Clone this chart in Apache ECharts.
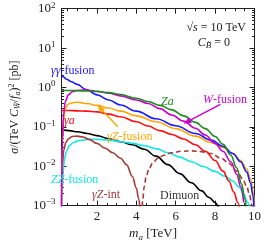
<!DOCTYPE html>
<html><head><meta charset="utf-8">
<script src="https://cdn.jsdelivr.net/npm/echarts@6/dist/echarts.min.js"></script>
<style>html,body{margin:0;padding:0;background:#fff}#c{width:266px;height:247px}</style>
</head><body><div id="c"></div>
<script>
// ---- data (m_a in TeV, sigma in pb) ----
const mGG=[0.2,0.3,0.45,0.7,1.0,1.45,2.0,2.6,3.2,4.0,5.0,6.0,7.0,7.8,8.4,8.9,9.3,9.6,9.8,9.92,9.98];
const sGG=[2.1,1.85,1.62,1.4,1.2,0.88,0.65,0.48,0.36,0.25,0.16,0.107,0.068,0.046,0.032,0.021,0.013,0.0072,0.0038,0.0018,0.0008];
const mZa=[0.2,0.6,1.0,1.5,2.0,2.6,3.2,4.0,4.6,5.2,5.8,6.4,7.0,7.5,8.0,8.4,8.8,9.1,9.35,9.5,9.6];
const sZa=[0.85,0.84,0.83,0.81,0.79,0.74,0.66,0.53,0.44,0.35,0.27,0.19,0.13,0.09,0.057,0.036,0.019,0.009,0.0035,0.0015,0.0007];
const mWW=[0.2,0.25,0.3,0.4,0.55,0.75,1.0,1.3,1.6,2.0,2.6,3.2,4.0,4.6,5.2,5.8,6.4,7.0,7.5,8.0,8.4,8.8,9.1,9.3,9.45];
const sWW=[0.0008,0.05,0.2,0.45,0.65,0.78,0.84,0.86,0.85,0.8,0.71,0.61,0.48,0.39,0.29,0.2,0.14,0.092,0.062,0.038,0.024,0.013,0.0062,0.003,0.0012];
const mGZ=[0.2,0.25,0.3,0.4,0.55,0.75,1.0,1.5,2.0,2.6,3.2,4.0,5.0,6.0,7.0,7.8,8.4,8.9,9.3,9.6,9.8,9.93,10.0];
const sGZ=[0.001,0.04,0.15,0.3,0.38,0.41,0.42,0.39,0.35,0.3,0.25,0.19,0.135,0.09,0.058,0.04,0.03,0.021,0.014,0.0085,0.0048,0.0022,0.0009];
const mGA=[0.2,0.6,1.0,1.5,2.0,2.6,3.2,4.0,4.6,5.2,5.8,6.4,7.0,7.5,8.0,8.4,8.7,8.95,9.15,9.3];
const sGA=[0.26,0.26,0.255,0.25,0.24,0.21,0.18,0.135,0.105,0.08,0.064,0.049,0.035,0.024,0.014,0.0075,0.0042,0.0022,0.0012,0.0006];
const mZZ=[0.2,0.23,0.28,0.35,0.45,0.6,0.8,1.1,1.5,2.0,2.6,3.2,3.8,4.4,5.0,5.6,6.2,6.8,7.4,8.0,8.5,8.9,9.2,9.45,9.65,9.8];
const sZZ=[0.0005,0.002,0.007,0.015,0.024,0.033,0.04,0.045,0.048,0.048,0.046,0.042,0.038,0.033,0.028,0.022,0.017,0.013,0.0098,0.0074,0.0056,0.0042,0.003,0.002,0.0012,0.0007];
const mMu=[0.2,0.6,1.0,1.5,2.0,2.6,3.2,3.8,4.4,5.0,5.6,6.2,6.8,7.3,7.7,8.0,8.2,8.35];
const sMu=[0.085,0.08,0.075,0.068,0.06,0.05,0.042,0.035,0.027,0.018,0.011,0.0065,0.0038,0.0024,0.0016,0.0012,0.0009,0.0007];
const mInt=[0.2,0.25,0.32,0.42,0.55,0.75,1.0,1.3,1.6,2.0,2.4,2.8,3.2,3.5,3.8,4.0,4.12,4.2];
const sInt=[0.003,0.012,0.026,0.04,0.05,0.057,0.058,0.055,0.048,0.038,0.029,0.022,0.016,0.011,0.0055,0.0028,0.0015,0.0007];
const mIntNeg=[4.28,4.33,4.4,4.5,4.65,4.85,5.1,5.4,5.8,6.3,6.8,7.3,7.8,8.3,8.7,9.1,9.4,9.6,9.75,9.85,9.92];
const sIntNeg=[0.0006,0.0015,0.003,0.0055,0.0088,0.0125,0.016,0.019,0.022,0.024,0.0245,0.0235,0.021,0.016,0.012,0.0075,0.0048,0.0031,0.0019,0.0011,0.0007];
// arrows (data coords): start -> end
const arrowW=[[8.27,0.37],[6.57,0.134]];
const arrowGZ=[[3.06,0.1],[2.16,0.3]];
// ticks
const xMajor=[2,4,6,8,10];
const xMinor=[0.5,1,1.5,2.5,3,3.5,4.5,5,5.5,6.5,7,7.5,8.5,9,9.5];
const yExp=[-3,-2,-1,0,1,2];

const C={gg:'#1a1aff',za:'#1e8c1e',ww:'#cc00cc',gz:'#ffa500',ga:'#ff1010',zz:'#10e6e6',mu:'#000000',int:'#a83a3a'};
const F='Liberation Serif';
const zip=(a,b)=>a.map((v,i)=>[v,b[i]]);
const yMinor=[];yExp.slice(0,-1).forEach(e=>{for(let k=2;k<=9;k++)yMinor.push(e+Math.log10(k));});

function line(name,m,s,color,dashed){
  return {name,type:'line',data:zip(m,s),xAxisIndex:0,yAxisIndex:0,showSymbol:false,symbol:'none',
    smooth:0.4,smoothMonotone:'x',clip:true,z:3,
    lineStyle:{color,width:1.6,type:dashed?[5,3]:'solid'}};
}
function arrow(s,a,color){
  s.markLine={silent:true,symbol:['none','triangle'],symbolSize:[6,8],animation:false,
    label:{show:false},lineStyle:{color,width:1.4,type:'solid'},
    data:[[{coord:a[0]},{coord:a[1]}]]};
  return s;
}
function txt(x,y,text,color,align){
  return {type:'text',x,y,z:10,style:{text,fill:color,align:align||'left',verticalAlign:'middle',
    fontFamily:F,fontSize:12,
    rich:{n:{fontFamily:F,fontSize:12,fill:color},
          i:{fontFamily:F,fontSize:12,fontStyle:'italic',fill:color},
          s:{fontFamily:F,fontSize:9,fontStyle:'italic',fill:color,padding:[6,0,0,0]}}}};
}
const axBase={min:0.2,max:10,axisLine:{show:false,onZero:false},splitLine:{show:false},axisLabel:{show:false}};
const chart=echarts.init(document.getElementById('c'),null,{renderer:'canvas'});
chart.setOption({
  animation:false,backgroundColor:'#fff',
  grid:{left:47.5,right:11.5,top:8.7,bottom:36,containLabel:false},
  xAxis:[
    Object.assign({},axBase,{type:'value',position:'bottom',
      axisLine:{show:true,onZero:false,lineStyle:{color:'#222',width:1}},
      axisTick:{inside:true,length:5,customValues:xMajor,lineStyle:{color:'#222'}},
      axisLabel:{show:true,customValues:xMajor,margin:4,color:'#222',fontFamily:F,fontSize:13},
      name:'{i|m}{s|a} [TeV]',nameLocation:'middle',nameGap:18,
      nameTextStyle:{color:'#222',fontFamily:F,fontSize:13,padding:[0,10,0,0],
        rich:{i:{fontFamily:F,fontSize:13,fontStyle:'italic',color:'#222'},s:{fontFamily:F,fontSize:9,fontStyle:'italic',color:'#222',padding:[7,0,0,0]}}}}),
    Object.assign({},axBase,{type:'value',position:'bottom',axisTick:{inside:true,length:2.5,customValues:xMinor,lineStyle:{color:'#222'}}}),
    Object.assign({},axBase,{type:'value',position:'top',
      axisLine:{show:true,onZero:false,lineStyle:{color:'#222',width:1}},
      axisTick:{inside:true,length:5,customValues:xMajor,lineStyle:{color:'#222'}}}),
    Object.assign({},axBase,{type:'value',position:'top',axisTick:{inside:true,length:2.5,customValues:xMinor,lineStyle:{color:'#222'}}})
  ],
  yAxis:[
    {type:'log',logBase:10,min:0.001,max:100,position:'left',splitLine:{show:false},
      axisLine:{show:true,onZero:false,lineStyle:{color:'#222',width:1}},
      axisTick:{inside:true,length:5,lineStyle:{color:'#222'}},
      minorTick:{show:false},
      axisLabel:{margin:6,color:'#222',
        formatter:v=>'{b|10}{p|'+String(Math.round(Math.log10(v))).replace('-','−')+'}',
        rich:{b:{fontFamily:F,fontSize:13,color:'#222'},p:{fontFamily:F,fontSize:9,color:'#222',padding:[0,0,7,0]}}},
      name:'{i|σ}/(TeV {i|C}{s|W̃}/{i|f}{s|a}){p|2} [pb]',nameLocation:'middle',nameGap:31,nameRotate:90,
      nameTextStyle:{color:'#222',fontFamily:F,fontSize:12,
        rich:{i:{fontFamily:F,fontSize:12,fontStyle:'italic',color:'#222'},
              s:{fontFamily:F,fontSize:8,fontStyle:'italic',color:'#222',padding:[6,0,0,0]},
              p:{fontFamily:F,fontSize:8,color:'#222',padding:[0,0,6,0]}}}},
    {type:'value',min:-3,max:2,position:'left',axisLine:{show:false,onZero:false},splitLine:{show:false},axisLabel:{show:false},
      axisTick:{inside:true,length:2.5,customValues:yMinor,lineStyle:{color:'#222'}}},
    {type:'log',logBase:10,min:0.001,max:100,position:'right',splitLine:{show:false},axisLabel:{show:false},
      axisLine:{show:true,onZero:false,lineStyle:{color:'#222',width:1}},
      axisTick:{inside:true,length:5,lineStyle:{color:'#222'}}},
    {type:'value',min:-3,max:2,position:'right',axisLine:{show:false,onZero:false},splitLine:{show:false},axisLabel:{show:false},
      axisTick:{inside:true,length:2.5,customValues:yMinor,lineStyle:{color:'#222'}}}
  ],
  series:[
    line('Dimuon',mMu,sMu,C.mu),
    line('ZZ',mZZ,sZZ,C.zz),
    line('int',mInt,sInt,C.int),
    line('intneg',mIntNeg,sIntNeg,C.int,true),
    line('ga',mGA,sGA,C.ga),
    arrow(line('gz',mGZ,sGZ,C.gz),arrowGZ,C.gz),
    line('gg',mGG,sGG,C.gg),
    arrow(line('ww',mWW,sWW,C.ww),arrowW,C.ww),
    line('za',mZa,sZa,C.za)
  ],
  graphic:[
    txt(51,71,'{i|γγ}-fusion',C.gg),
    txt(161,102,'{i|Za}',C.za),
    txt(203,100,'{i|W}-fusion',C.ww),
    txt(64,121,'{i|γa}',C.ga),
    txt(107,137,'{i|γZ}-fusion',C.gz),
    txt(51,180,'{i|ZZ}-fusion',C.zz),
    txt(92,195,'{i|γZ}-int',C.int),
    txt(160,196,'Dimuon','#333'),
    txt(246,28,'√{i|s} = 10 TeV','#222','right'),
    txt(230,43,'{i|C}{s|B̃} = 0','#222','right')
  ]
});
</script></body></html>
